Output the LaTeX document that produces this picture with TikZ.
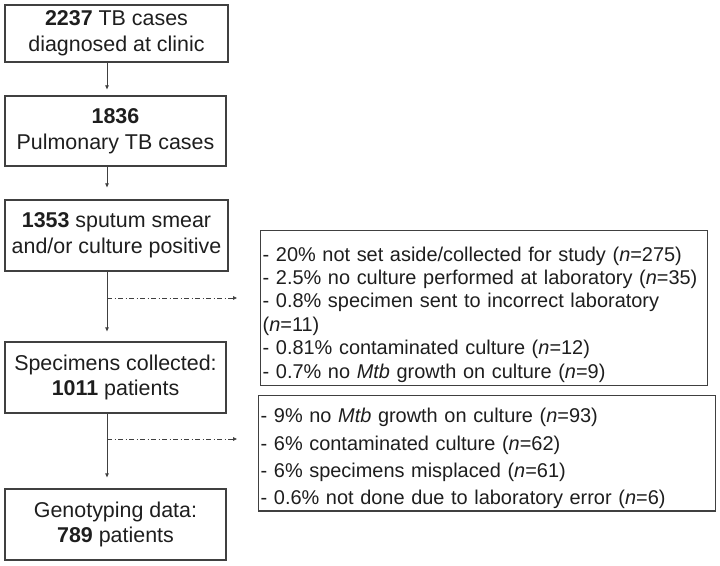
\documentclass[tikz,border=0pt]{standalone}
\usepackage{fontspec}
\setmainfont{Liberation Sans}
\usetikzlibrary{arrows.meta}
\definecolor{boxline}{HTML}{404040}
\definecolor{inkgray}{HTML}{1E1E1E}
\begin{document}
\begin{tikzpicture}[x=1bp, y=-1bp,
        stage/.style={draw=boxline, line width=1.3bp, rectangle, align=center, inner sep=0pt,
          text=inkgray, font=\fontsize{21.5}{26}\selectfont},
        excl/.style={draw=boxline, line width=1.3bp, rectangle, align=left, inner sep=2bp,
          text=inkgray, anchor=north west},
        arr/.style={-{Triangle[length=4bp, width=3.5bp]}, line width=0.8bp, boxline},
        side/.style={-{Triangle[length=4bp, width=3.5bp]}, line width=0.8bp, boxline,
          dash pattern=on 5bp off 2.5bp on 1bp off 2.5bp},
      ]
        \useasboundingbox (0,0) rectangle (720,566);
        \fill[white] (0,0) rectangle (720,566);

        % Flow of patients
        \node[stage, minimum width=223bp, minimum height=57bp] (clinic)   at (116.5,33.5)
          {\textbf{2237} TB cases\\diagnosed at clinic};
        \node[stage, minimum width=221bp, minimum height=70bp] (pulm)     at (115.5,131)
          {\textbf{1836}\\Pulmonary TB cases};
        \node[stage, minimum width=223bp, minimum height=71bp] (positive) at (116.5,235.5)
          {\textbf{1353} sputum smear\\and/or culture positive};
        \node[stage, minimum width=221bp, minimum height=71bp] (collect)  at (115.5,377.5)
          {Specimens collected:\\\textbf{1011} patients};
        \node[stage, minimum width=221bp, minimum height=71bp] (geno)     at (115.5,524.5)
          {Genotyping data:\\\textbf{789} patients};

        % Exclusions
        \node[excl, minimum width=447bp, minimum height=155bp, text width=443bp,
          text height=27bp, font=\fontsize{20}{23.5}\selectfont] (lostA) at (260,230)
          {- 20\% not set aside/collected for study (\textit{n}=275)\\
           - 2.5\% no culture performed at laboratory (\textit{n}=35)\\
           - 0.8\% specimen sent to incorrect laboratory\\
           (\textit{n}=11)\\
           - 0.81\% contaminated culture (\textit{n}=12)\\
           - 0.7\% no \textit{Mtb} growth on culture (\textit{n}=9)};
        \node[excl, minimum width=457bp, minimum height=113bp, text width=453bp,
          text height=25bp, font=\fontsize{20}{27.5}\selectfont] (lostB) at (258,395)
          {- 9\% no \textit{Mtb} growth on culture (\textit{n}=93)\\
           - 6\% contaminated culture (\textit{n}=62)\\
           - 6\% specimens misplaced (\textit{n}=61)\\
           - 0.6\% not done due to laboratory error (\textit{n}=6)};

        % Main arrows
        \coordinate (spine) at (107,0);
        \draw[arr, shorten >=6bp]  (clinic.south -| spine)   -- (pulm.north -| spine);
        \draw[arr, shorten >=12bp] (pulm.south -| spine)     -- (positive.north -| spine);
        \draw[arr, shorten >=10bp] (positive.south -| spine) -- (collect.north -| spine);
        \draw[arr, shorten >=11bp] (collect.south -| spine)  -- (geno.north -| spine);

        % Side arrows
        \coordinate (splitA) at (107,298);
        \coordinate (splitB) at (107,439);
        \draw[side, shorten >=23bp] (splitA) -- (splitA -| lostA.west);
        \draw[side, shorten >=21bp] (splitB) -- (splitB -| lostB.west);
      \end{tikzpicture}
\end{document}
